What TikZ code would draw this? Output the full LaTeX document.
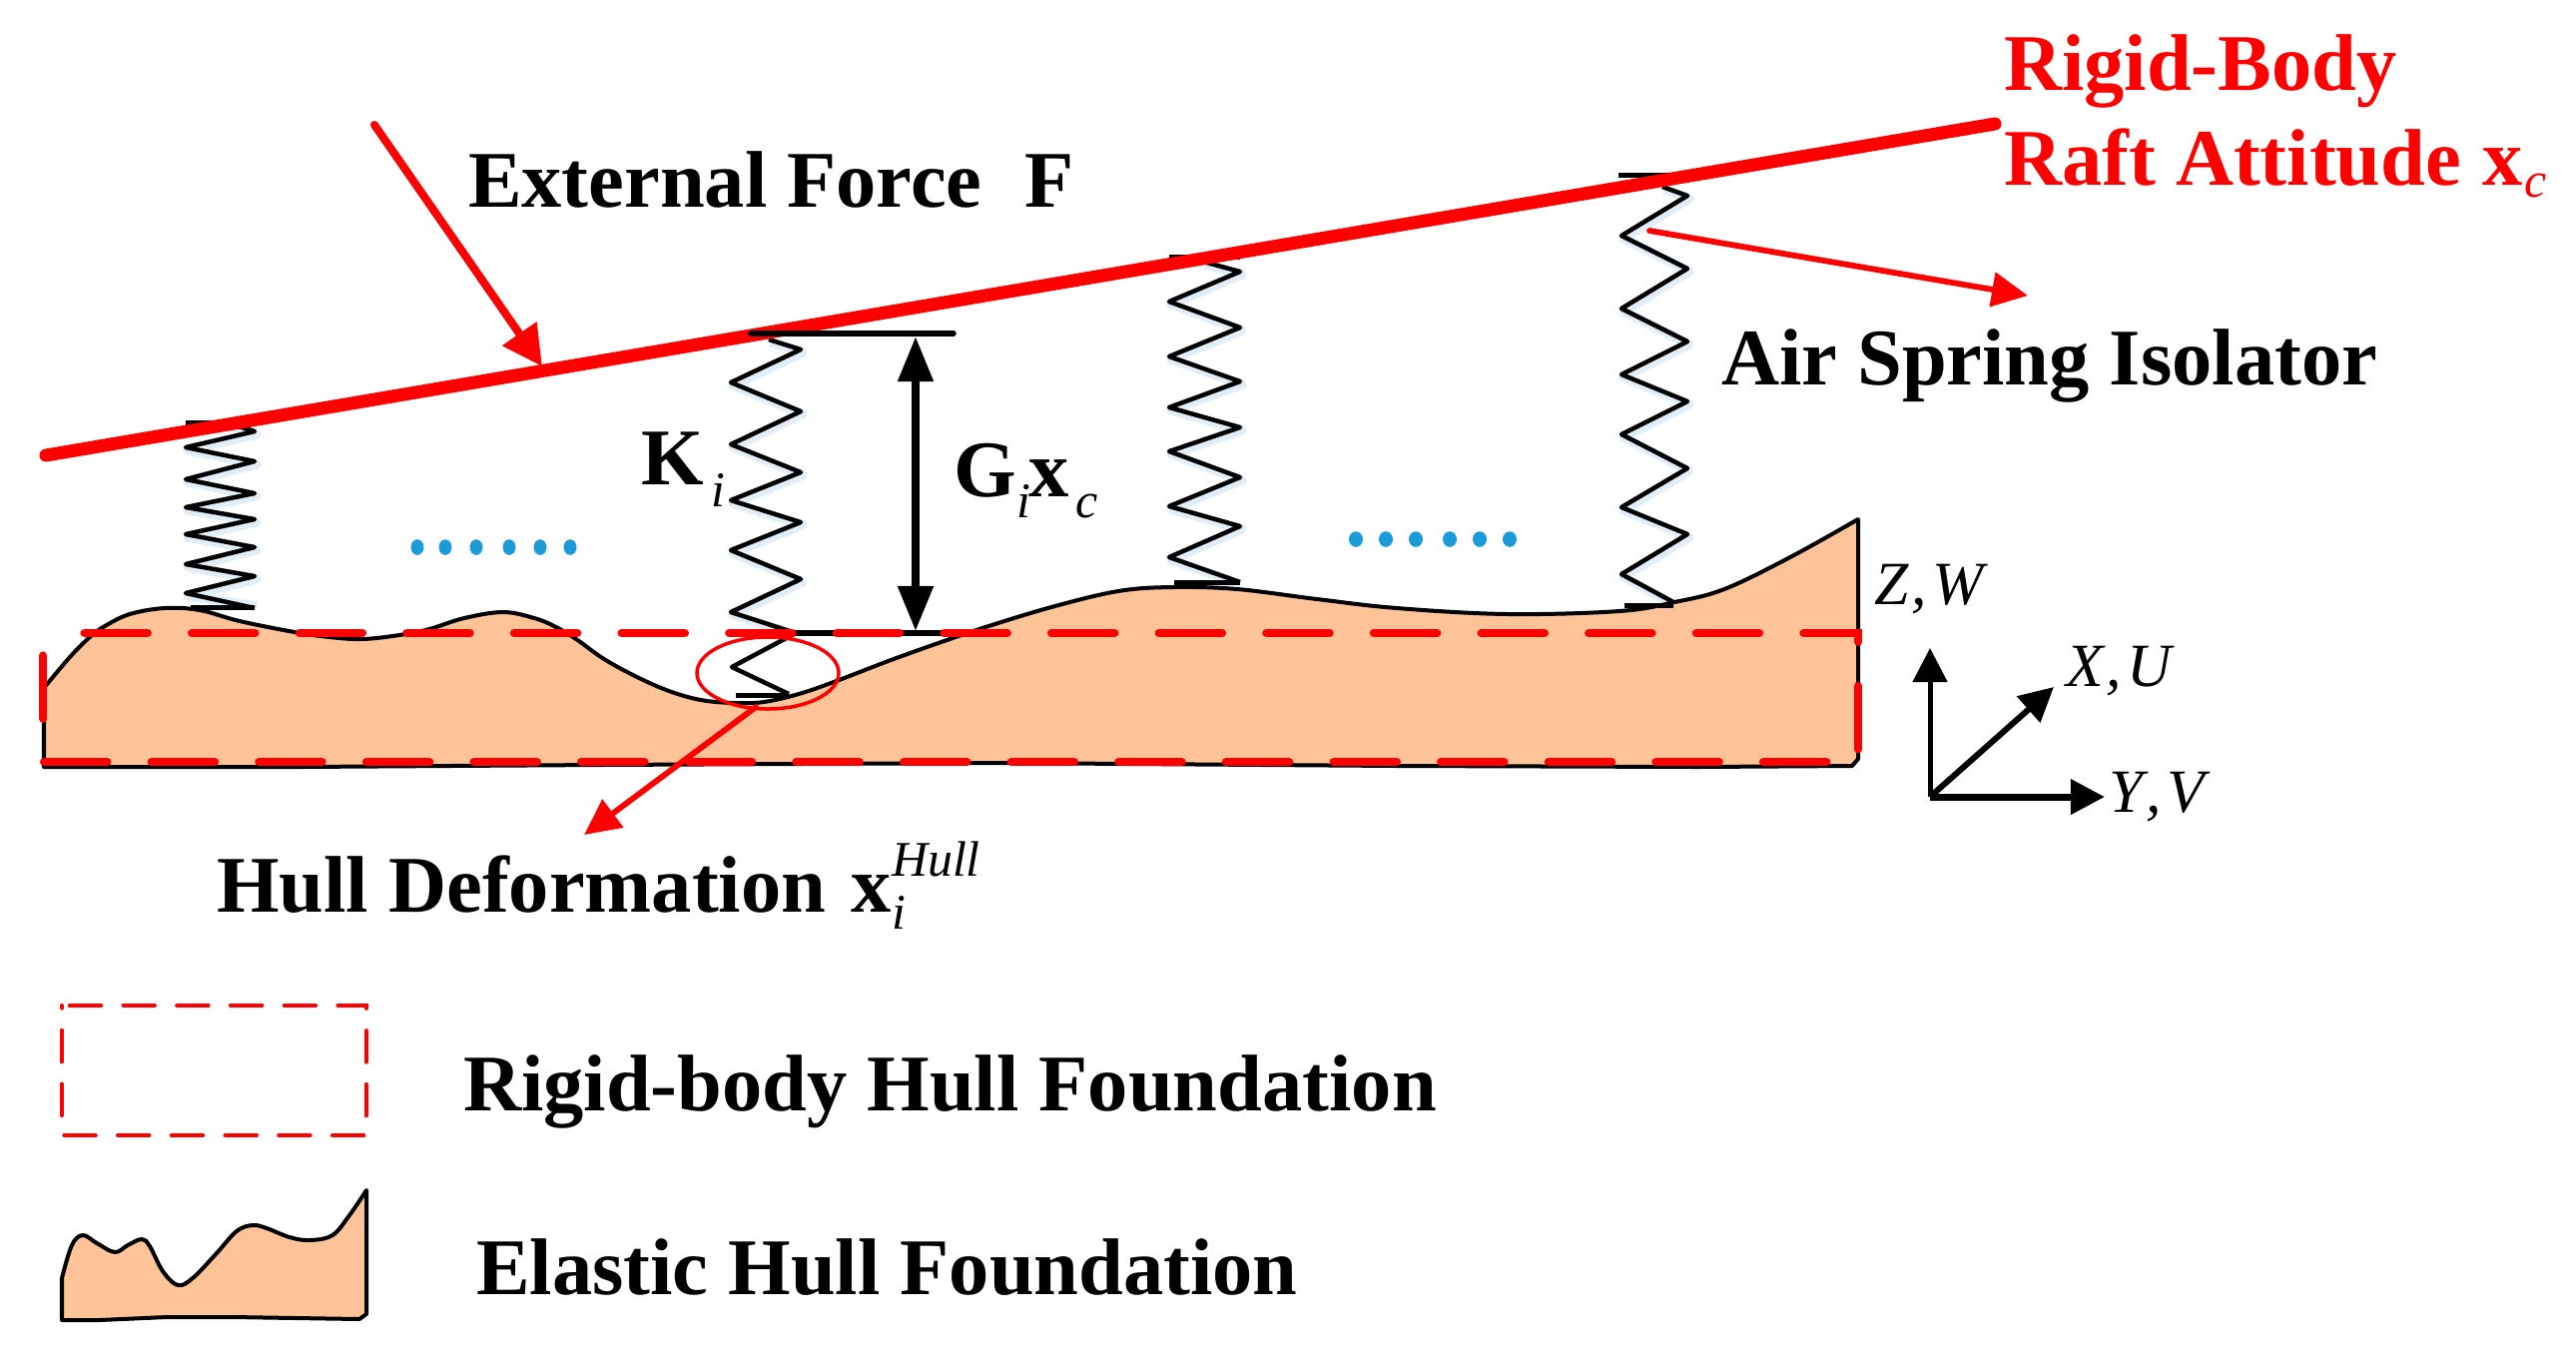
\documentclass[tikz,border=0pt]{standalone}
\usepackage{fontspec}
\setmainfont{Liberation Serif}
\usetikzlibrary{arrows.meta}
\definecolor{hullfill}{RGB}{254,195,150}
\definecolor{dotblue}{RGB}{27,156,216}
\definecolor{glow}{RGB}{226,238,247}
\tikzset{
  big/.style={anchor=base west,inner sep=0pt,outer sep=0pt,font=\fontsize{22.88}{27}\selectfont\bfseries},
  small/.style={anchor=base west,inner sep=0pt,outer sep=0pt,font=\fontsize{14.2}{17}\selectfont\itshape},
  axislabel/.style={anchor=base west,inner sep=0pt,outer sep=0pt,font=\fontsize{17.5}{20}\selectfont\itshape},
  redtext/.style={text=red},
  hullshape/.style={fill=hullfill,draw=black,line width=0.04cm,line join=round},
  springline/.style={draw=black,line width=0.045cm,line join=round},
  springglow/.style={draw=glow,line width=0.09cm,line join=round},
  springbar/.style={draw=black,line width=0.05cm},
  rigidmain/.style={draw=red,line width=0.085cm,line cap=round,dash pattern=on 0.63cm off 0.4456cm,dash phase=0.66cm},
  rigidkey/.style={draw=red,line width=0.04cm,line cap=round,dash pattern=on 0.315cm off 0.222cm,dash phase=0.46cm},
  raftline/.style={draw=red,line width=0.13cm,line cap=round},
  redarrow/.style={draw=red,line width=0.058cm,line cap=round,-{Triangle[length=0.36cm,width=0.34cm]}},
  forcearrow/.style={draw=red,line width=0.08cm,line cap=round,-{Triangle[length=0.4cm,width=0.4cm]}},
  axisarrow/.style={draw=black,line width=0.05cm,-{Triangle[length=0.34cm,width=0.34cm]}},
  gaparrow/.style={draw=black,line width=0.08cm,{Triangle[length=0.45cm,width=0.34cm]}-{Triangle[length=0.45cm,width=0.34cm]}},
  dotmark/.style={fill=dotblue,draw=none},
}
\begin{document}
\begin{tikzpicture}[x=0.01cm,y=-0.01cm]
\fill[white] (0,0) rectangle (2580,1365);
\useasboundingbox (0,0) rectangle (2580,1365);

% elastic hull
\draw[hullshape] (44,768) -- (44,689) -- plot[smooth,tension=0.6] coordinates {(44,689) (70,658) (90,638) (105,627) (130,615) (165,609) (200,611) (240,622) (295,633) (330,638) (363,640) (400,636) (430,630) (465,619) (504,613) (535,619) (555,627) (577,640) (605,660) (638,678) (670,692) (702,701) (735,704) (765,703) (800,695) (835,683) (895,660) (957,638) (987,628) (1053,608) (1120,592) (1175,588) (1239,590) (1319,600) (1399,609) (1510,615) (1622,612) (1677,603) (1727,590) (1793,558) (1861,520)} -- (1861,760) -- (1855,767) -- (1700,768) -- (1400,767) -- (1000,764) -- (600,766) -- (300,768) -- cycle;

% spring glow
\begin{scope}[xshift=0.02cm,yshift=-0.03cm]
\draw[springglow] (226,423) -- (255,432) -- (186,448) -- (255,462) -- (186,480) -- (255,494) -- (186,508) -- (255,520) -- (186,535) -- (255,548) -- (186,565) -- (255,577) -- (186,594) -- (255,604);
\draw[springglow] (770,340) -- (802,350) -- (732,383) -- (802,412) -- (732,445) -- (802,473) -- (732,501) -- (802,523) -- (732,551) -- (802,580) -- (732,613) -- (780,628);
\draw[springglow] (1205,262) -- (1242,272) -- (1171,302) -- (1242,328) -- (1171,357) -- (1242,382) -- (1171,408) -- (1242,428) -- (1171,452) -- (1242,478) -- (1171,507) -- (1242,527) -- (1171,558) -- (1230,578);
\draw[springglow] (1665,187) -- (1690,196) -- (1624,236) -- (1690,269) -- (1624,309) -- (1690,342) -- (1624,375) -- (1690,402) -- (1624,435) -- (1690,469) -- (1624,508) -- (1690,535) -- (1624,575) -- (1665,597);
\end{scope}

% springs
\draw[springline] (226,423) -- (255,432) -- (186,448) -- (255,462) -- (186,480) -- (255,494) -- (186,508) -- (255,520) -- (186,535) -- (255,548) -- (186,565) -- (255,577) -- (186,594) -- (255,609);
\draw[springline] (770,340) -- (802,350) -- (732,383) -- (802,412) -- (732,445) -- (802,473) -- (732,501) -- (802,523) -- (732,551) -- (802,580) -- (732,613) -- (797,634) -- (733,668) -- (790,695);
\draw[springline] (1205,262) -- (1242,272) -- (1171,302) -- (1242,328) -- (1171,357) -- (1242,382) -- (1171,408) -- (1242,428) -- (1171,452) -- (1242,478) -- (1171,507) -- (1242,527) -- (1171,558) -- (1242,583);
\draw[springline] (1665,187) -- (1690,196) -- (1624,236) -- (1690,269) -- (1624,309) -- (1690,342) -- (1624,375) -- (1690,402) -- (1624,435) -- (1690,469) -- (1624,508) -- (1690,535) -- (1624,575) -- (1676,603);

% spring end bars
\draw[springbar] (186,423) -- (255,423);
\draw[springbar] (191,608) -- (255,608);
\draw[springbar] (737,696) -- (790,696);
\draw[springbar] (1171,257) -- (1242,257);
\draw[springbar] (1176,583) -- (1242,583);
\draw[springbar] (1621,175) -- (1672,175);
\draw[springbar] (1627,606) -- (1676,606);

% raft
\coordinate (raftA) at (46,456);
\coordinate (raftB) at (1998,124);
\draw[raftline] (raftA) -- (raftB);

% gap bars and arrow (over the raft)
\draw[draw=black,line width=0.055cm,line cap=round] (752,334) -- (955,334);
\draw[draw=black,line width=0.055cm] (780,634) -- (963,634);
\coordinate (gapTop) at (917,337);
\coordinate (gapBot) at (917,632);
\draw[gaparrow] (gapTop) -- (gapBot);

% rigid body hull outline
\draw[rigidmain] (43,634) -- (1861,634) -- (1861,763) -- (43,763) -- cycle;

% external force
\coordinate (forceA) at (375,125);
\coordinate (forceB) at (543,367);
\draw[forcearrow] (forceA) -- (forceB);

% air spring pointer
\coordinate (airA) at (1652,231);
\coordinate (airB) at (2031,296);
\draw[redarrow] (airA) -- (airB);

% hull deformation pointer
\draw[draw=red,line width=0.035cm] (769,674) ellipse [x radius=71,y radius=36];
\coordinate (defA) at (757,708);
\coordinate (defB) at (585,836);
\draw[redarrow] (defA) -- (defB);

% dots
\foreach \dx in {418,446,477,510,541,571} \fill[dotmark] (\dx,548) ellipse [x radius=6.5,y radius=7.8];
\foreach \dx in {1358,1388,1418,1452,1482,1512} \fill[dotmark] (\dx,540) ellipse [x radius=7,y radius=7.8];

% axes
\coordinate (axO) at (1933,798);
\coordinate (axZ) at (1933,649);
\coordinate (axY) at (2108,798);
\coordinate (axX) at (2057,688);
\draw[axisarrow] (axO) -- (axZ);
\draw[axisarrow,line width=0.07cm] (axO) -- (axY);
\draw[axisarrow,line width=0.06cm] (axO) -- (axX);
\node[axislabel] (labZ) at (1877,605) {Z\kern0.03cm,\kern0.06cm W};
\node[axislabel] (labX) at (2069,687) {X\kern0.03cm,\kern0.06cm U};
\node[axislabel] (labY) at (2112,813) {Y\kern0.03cm,\kern0.06cm V};

% labels
\node[big] (force) at (469,207) {External Force\ \ \kern0.03cm F};
\node[big,redtext] (rigidA) at (2007,90) {Rigid-Body};
\node[big,redtext] (rigidB) at (2007,185) {Raft Attitude};
\node[big,redtext] (rigidx) at (2486,185) {x};
\node[small,redtext] (rigidc) at (2528,197) {c};
\node[big] (air) at (1724,385) {Air Spring Isolator};
\node[big] (kk) at (642,485) {K};
\node[small] (ki) at (712,507) {i};
\node[big] (gg) at (955,497) {G};
\node[small] (gi) at (1018,518) {i};
\node[big] (gx) at (1030,497) {x};
\node[small] (gc) at (1077,518) {c};
\node[big] (hull) at (217,913) {Hull Deformation};
\node[big] (hullx) at (852,913) {x};
\node[small] (hullsup) at (893,877) {Hull};
\node[small] (hulli) at (893,930) {i};
\node[big] (legA) at (464,1112) {Rigid-body Hull Foundation};
\node[big] (legB) at (477,1296) {Elastic Hull Foundation};

% legend
\draw[rigidkey] (62,1007) -- (367,1007) -- (367,1137) -- (62,1137) -- cycle;
\draw[fill=hullfill,draw=black,line width=0.04cm,line join=round] (62,1322) -- (62,1280) -- plot[smooth,tension=0.6] coordinates {(62,1280) (72,1247) (83,1237) (97,1245) (115,1254) (128,1247) (142,1241) (150,1248) (163,1273) (178,1287) (193,1280) (217,1255) (237,1233) (253,1227) (267,1230) (290,1239) (310,1242) (333,1237) (350,1217) (367,1192)} -- (367,1316) -- (360,1321) -- (233,1319) -- (167,1319) -- (100,1322) -- cycle;
\end{tikzpicture}
\end{document}
